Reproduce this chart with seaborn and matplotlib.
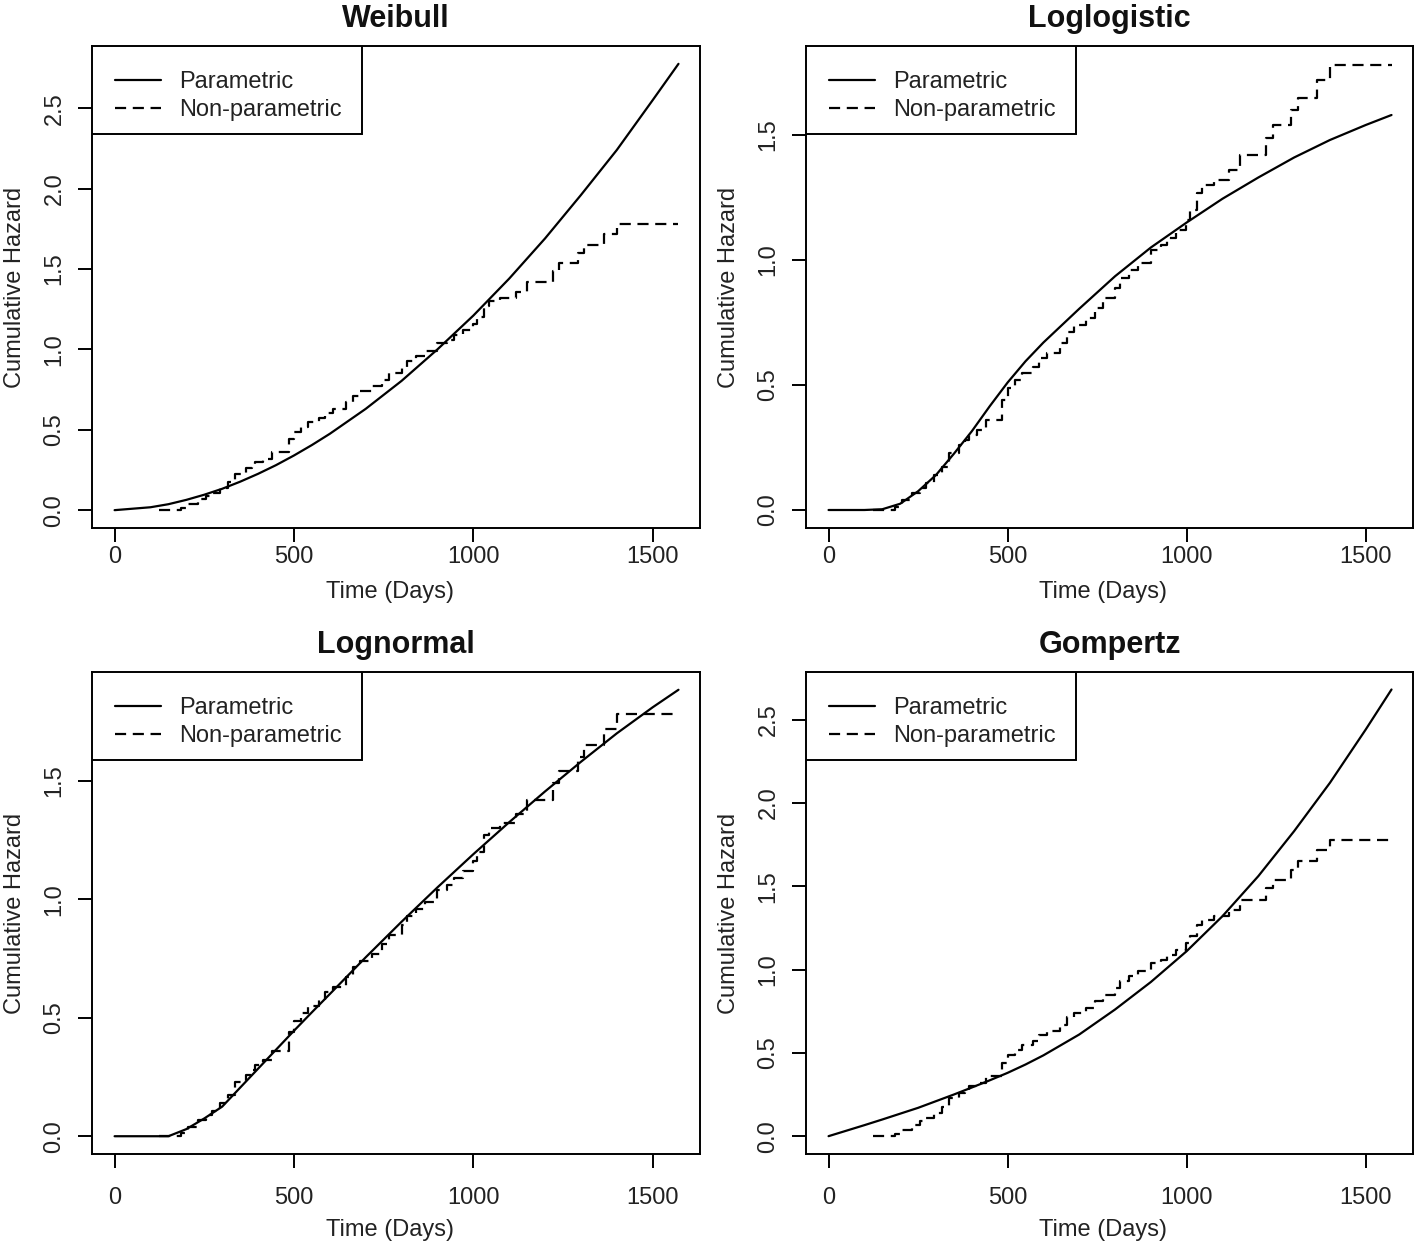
import numpy as np
import pandas as pd
import seaborn as sns
import matplotlib
matplotlib.use("Agg")
import matplotlib.pyplot as plt
from matplotlib.patches import Rectangle

# Nelson-Aalen style estimate (same data in every panel), steps-post
np_time = [125, 185, 205, 232, 255, 272, 295, 316, 335, 365,
           382, 392, 415, 440, 485, 500, 520, 540, 571, 587,
           610, 645, 665, 684, 718, 745, 766, 800, 814, 840,
           865, 900, 928, 945, 970, 998, 1010, 1030, 1044, 1075,
           1118, 1150, 1222, 1240, 1292, 1310, 1365, 1400, 1572]
np_hazard = [0, 0.013, 0.04, 0.067, 0.09, 0.107, 0.14, 0.173, 0.227, 0.26,
             0.28, 0.30, 0.32, 0.36, 0.44, 0.487, 0.52, 0.55, 0.573, 0.607,
             0.63, 0.67, 0.713, 0.74, 0.77, 0.81, 0.85, 0.89, 0.93, 0.96,
             0.99, 1.04, 1.06, 1.09, 1.12, 1.16, 1.20, 1.27, 1.30, 1.32,
             1.36, 1.42, 1.49, 1.54, 1.60, 1.65, 1.72, 1.78, 1.78]

# fitted parametric cumulative hazards
par_time = [0, 100, 150, 200, 250, 300, 350, 400, 450, 500, 550, 600, 700,
            800, 900, 1000, 1100, 1200, 1300, 1400, 1500, 1572]
weibull = [0, 0.018, 0.037, 0.064, 0.096, 0.133, 0.177, 0.226, 0.28, 0.34, 0.405,
           0.475, 0.63, 0.804, 1.0, 1.21, 1.44, 1.69, 1.96, 2.24, 2.55, 2.776]
loglogistic = [0, 0.0, 0.003, 0.025, 0.075, 0.14, 0.225, 0.315, 0.415, 0.51, 0.595,
               0.67, 0.805, 0.935, 1.05, 1.15, 1.245, 1.33, 1.41, 1.48, 1.54, 1.58]
lognormal = [0, 0, 0, 0.03, 0.075, 0.125, 0.205, 0.285, 0.365, 0.445, 0.523,
             0.60, 0.755, 0.905, 1.05, 1.19, 1.325, 1.455, 1.58, 1.70, 1.81, 1.884]
gompertz = [0, 0.066, 0.10, 0.135, 0.17, 0.21, 0.25, 0.292, 0.335, 0.38, 0.43,
            0.485, 0.61, 0.76, 0.925, 1.11, 1.32, 1.56, 1.83, 2.12, 2.44, 2.68]

panels = [
    ("Weibull", weibull, (-0.111, 2.887), [0, 0.5, 1.0, 1.5, 2.0, 2.5]),
    ("Loglogistic", loglogistic, (-0.072, 1.856), [0, 0.5, 1.0, 1.5]),
    ("Lognormal", lognormal, (-0.075, 1.959), [0, 0.5, 1.0, 1.5]),
    ("Gompertz", gompertz, (-0.107, 2.785), [0, 0.5, 1.0, 1.5, 2.0, 2.5]),
]

sns.set_theme(style="ticks")
plt.rcParams["font.family"] = ["Liberation Sans", "DejaVu Sans"]
plt.rcParams["axes.linewidth"] = 1.4

W, H = 1418, 1249
fig = plt.figure(figsize=(W / 100, H / 100), dpi=100)
fig.patch.set_facecolor("white")

# pixel boxes (left, top, right, bottom), plus x tick-label pad and x-label offset
boxes = [(92, 46, 700, 528, 3, 64), (806, 46, 1413, 528, 3, 64),
         (92, 672, 700, 1154, 14, 76), (806, 672, 1413, 1154, 14, 76)]

df_np = pd.DataFrame({"time": np_time, "hazard": np_hazard})

for (name, par_vals, ylim, yticks), (l, t, r, b, xpad, xlab) in zip(panels, boxes):
    aw, ah = r - l, b - t
    ax = fig.add_axes([l / W, (H - b) / H, aw / W, ah / H])
    df_par = pd.DataFrame({"time": par_time, "hazard": par_vals})

    sns.lineplot(data=df_par, x="time", y="hazard", ax=ax, color="black",
                 linewidth=1.6, label="Parametric")
    sns.lineplot(data=df_np, x="time", y="hazard", ax=ax, color="black",
                 linewidth=1.6, drawstyle="steps-post",
                 linestyle=(0, (5, 3)), label="Non-parametric")

    ax.set_xlim(-63, 1632)
    ax.set_ylim(*ylim)
    ax.set_xticks([0, 500, 1000, 1500])
    ax.set_xticklabels(["0", "500", "1000", "1500"])
    ax.set_yticks(yticks)
    ax.set_yticklabels([f"{v:.1f}" for v in yticks], rotation=90, va="center")
    ax.tick_params(axis="both", direction="out", length=10, width=1.4,
                   labelsize=17, color="black", labelcolor="#222222")
    ax.tick_params(axis="x", pad=xpad)
    ax.tick_params(axis="y", pad=9)
    for sp in ax.spines.values():
        sp.set_color("black")
        sp.set_linewidth(1.4)

    ax.set_title(name, fontsize=22, fontweight="bold", pad=13.5, color="#111111")
    ax.set_xlabel("Time (Days)", fontsize=17, va="center", color="#222222")
    ax.set_ylabel("Cumulative Hazard", fontsize=17, va="center", color="#222222")
    ax.xaxis.set_label_coords(0.49, -xlab / ah)
    ax.yaxis.set_label_coords(-77 / aw, 0.5)

    # legend box drawn as a patch, entries placed inside it
    ax.add_patch(Rectangle((0, 1 - 88 / ah), 270 / aw, 88 / ah,
                           transform=ax.transAxes, facecolor="white",
                           edgecolor="black", linewidth=1.4, zorder=4))
    leg = ax.legend(loc="upper left", bbox_to_anchor=(23 / aw, 1 - 25 / ah),
                    fontsize=17, frameon=False, borderaxespad=0, borderpad=0,
                    labelspacing=0.26, handlelength=1.95, handletextpad=0.78)
    leg.set_zorder(5)
    for txt in leg.get_texts():
        txt.set_color("#222222")

plt.savefig("out.png", dpi=100)
